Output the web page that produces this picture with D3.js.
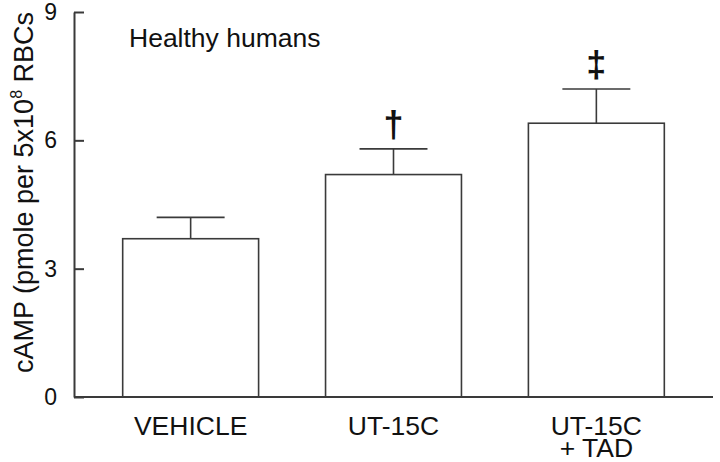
<!DOCTYPE html>
<html>
<head>
<meta charset="utf-8">
<script src="https://d3js.org/d3.v7.min.js"></script>
<style>
  body { margin: 0; background: #fff; }
  text { font-family: "Liberation Sans", Arial, sans-serif; fill: #111; }
</style>
</head>
<body>
<div id="chart"></div>
<script>
// Data
var groups = ["VEHICLE", "UT-15C", "UT-15C\n+ TAD"];
var means = [3.7, 5.2, 6.4];
var errors = [0.5, 0.6, 0.8];
var marks = ["", "\u2020", "\u2021"];
var yTicks = [0, 3, 6, 9];

//Chart set up
var svgWidth = 720;
var svgHeight = 462;
var margin = {top: 12, right: 7, bottom: 65, left: 74};

var width = svgWidth - margin.left - margin.right;
var height = svgHeight - margin.top - margin.bottom;

var svg = d3.select("#chart")
    .append("svg")
    .attr("width", svgWidth)
    .attr("height", svgHeight);

var chartGroup = svg.append("g")
    .attr("transform", "translate(" + margin.left + "," + margin.top + ")");

//scales
var xScale = d3.scaleBand()
    .domain(groups)
    .range([0, width])
    .paddingInner(0.33)
    .paddingOuter(0.24);

var yScale = d3.scaleLinear()
    .domain([0, 9])
    .range([height, 0]);

//bars
chartGroup.selectAll(".bar")
    .data(groups)
    .enter()
    .append("rect")
    .attr("class", "bar")
    .attr("x", d => xScale(d))
    .attr("y", (d, i) => yScale(means[i]))
    .attr("width", xScale.bandwidth())
    .attr("height", (d, i) => height - yScale(means[i]))
    .attr("fill", "#fff")
    .attr("stroke", "#3a3a3a")
    .attr("stroke-width", 1.6);

//error bars (upper only)
var capHalf = xScale.bandwidth() / 4;
groups.forEach(function(g, i) {
    var cx = xScale(g) + xScale.bandwidth() / 2;
    chartGroup.append("line")
        .attr("x1", cx).attr("x2", cx)
        .attr("y1", yScale(means[i])).attr("y2", yScale(means[i] + errors[i]))
        .attr("stroke", "#3a3a3a").attr("stroke-width", 1.6);
    chartGroup.append("line")
        .attr("x1", cx - capHalf).attr("x2", cx + capHalf)
        .attr("y1", yScale(means[i] + errors[i])).attr("y2", yScale(means[i] + errors[i]))
        .attr("stroke", "#3a3a3a").attr("stroke-width", 1.6);
    if (marks[i]) {
        chartGroup.append("text")
            .attr("x", cx)
            .attr("y", yScale(means[i] + errors[i]) - 12)
            .attr("text-anchor", "middle")
            .attr("font-size", 36)
            .attr("font-weight", "bold")
            .text(marks[i]);
    }
});

//axes
var leftAxis = d3.axisLeft(yScale)
    .tickValues(yTicks)
    .tickSizeInner(-10)
    .tickSizeOuter(0)
    .tickPadding(17);

var yAxisG = chartGroup.append("g").call(leftAxis);
yAxisG.select(".domain").attr("stroke", "#3a3a3a").attr("stroke-width", 2);
yAxisG.selectAll(".tick line").attr("stroke", "#3a3a3a").attr("stroke-width", 2);
yAxisG.selectAll(".tick text")
    .attr("font-size", 23)
    .attr("font-family", "Liberation Sans, Arial, sans-serif")
    .attr("fill", "#111");

chartGroup.append("line")
    .attr("x1", 0).attr("x2", width)
    .attr("y1", height).attr("y2", height)
    .attr("stroke", "#3a3a3a")
    .attr("stroke-width", 2);

//x labels, one text per line
groups.forEach(function(g) {
    g.split("\n").forEach(function(l, j) {
        chartGroup.append("text")
            .attr("x", xScale(g) + xScale.bandwidth() / 2)
            .attr("y", height + 38 + j * 22)
            .attr("text-anchor", "middle")
            .attr("font-size", 26.5)
            .text(l);
    });
});

//y label
var yLabel = svg.append("text")
    .attr("transform", "translate(33,373)rotate(-90)")
    .attr("text-anchor", "start")
    .attr("font-size", 27);
yLabel.append("tspan").text("cAMP (pmole per 5x10");
yLabel.append("tspan").attr("font-size", 16).attr("dy", -11).text("8");
yLabel.append("tspan").attr("dy", 11).text(" RBCs");

//panel title
svg.append("text")
    .attr("x", 129)
    .attr("y", 47)
    .attr("font-size", 26.5)
    .text("Healthy humans");
</script>
</body>
</html>
